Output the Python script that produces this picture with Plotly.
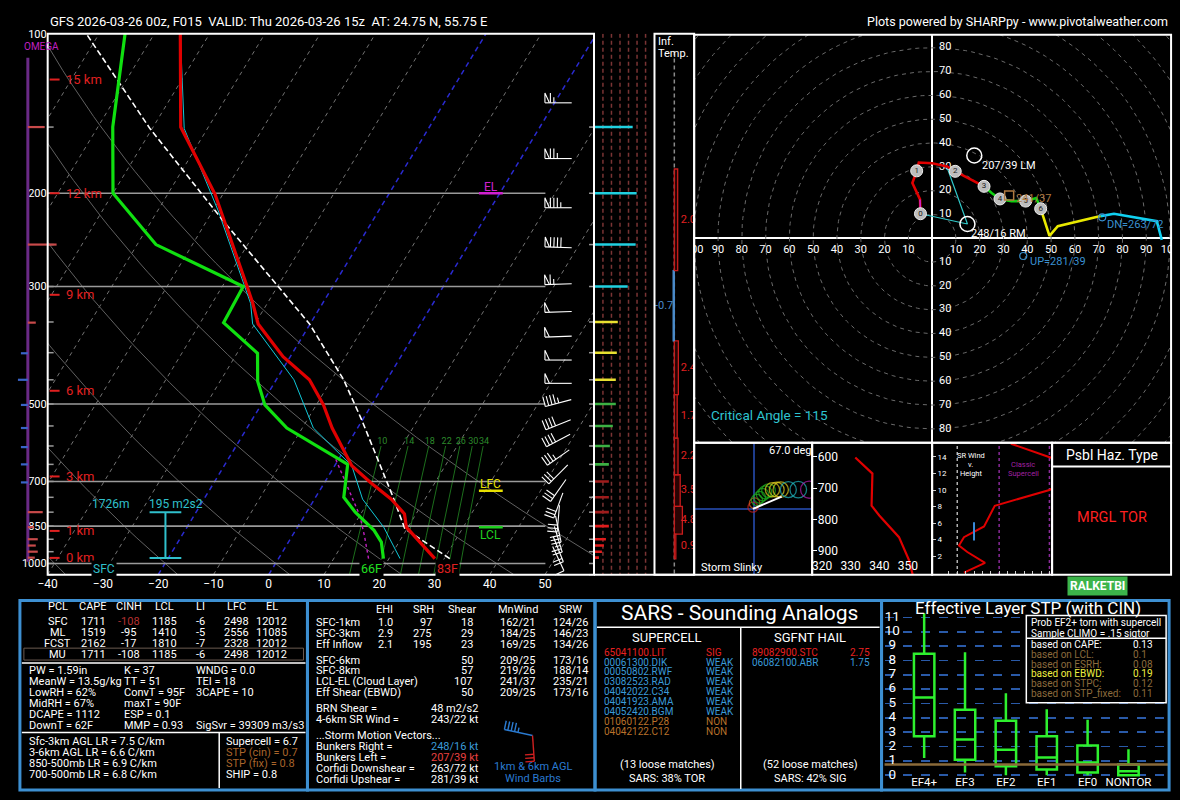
import numpy as np
import plotly.graph_objects as go

W, H = 1180, 800
FONT = "Roboto"

TITLE_LEFT = "GFS 2026-03-26 00z, F015  VALID: Thu 2026-03-26 15z  AT: 24.75 N, 55.75 E"
TITLE_RIGHT = "Plots powered by SHARPpy - www.pivotalweather.com"

# ---------------- Skew-T profiles (hPa, deg C) ----------------
p_env = [979, 854, 806, 756, 703, 654, 555, 502, 450, 407, 353, 323, 300, 201, 150, 100]
t_env = [28.3, 19.7, 17.9, 13.9, 8.3, 3.1, -4.6, -8.7, -14.0, -21.3, -29.4, -32.6, -35.5, -51.4, -65.0, -75.3]
p_dwpt = [979, 911, 866, 800, 750, 650, 555, 502, 453, 401, 351, 323, 300, 250, 200, 150, 100]
t_dwpt = [19.0, 16.8, 14.2, 8.8, 5.1, 2.2, -12.8, -19.3, -23.2, -26.3, -35.8, -36.0, -36.2, -56.6, -70.0, -77.3, -85.3]
p_wetb = [979, 854, 756, 654, 555, 450, 353, 323, 216, 151, 100]
t_wetb = [22.0, 15.6, 8.7, 3.1, -8.0, -16.8, -30.4, -33.0, -49.0, -64.2, -75.3]
p_parcel = [979, 860, 744, 535, 450, 353, 226, 151, 100]
t_parcel = [31.0, 19.6, 13.7, -0.2, -7.8, -20.1, -46.9, -70.4, -92.3]
p_dcape = [979, 885, 812, 636]
t_dcape = [16.3, 13.0, 10.0, -0.5]

p_levels = [100, 200, 300, 500, 700, 850, 1000]
p_minor = list(range(150, 1051, 50))
t_ticks = [-40, -30, -20, -10, 0, 10, 20, 30, 40, 50]
dry_adiabat_t1000 = [-100, -80, -60, -40, -20, 0, 20, 40, 60]
hgt_km = [0, 1, 3, 6, 9, 12, 15]
hgt_p = [976, 868, 685, 472, 311, 200, 122]
mixr_gkg = [10, 14, 18, 22, 26, 30, 34]

sfc_t_txt, sfc_td_txt = "83F", "66F"
el_p, lfc_p, lcl_p = 200, 729, 854
eff_bot_p, eff_top_p = 976, 800
eff_top_txt, eff_srh_txt = "1726m", "195 m2s2"

barb_p = [135, 172, 213, 253, 297, 335, 373, 413, 457, 498, 547, 586, 631, 679, 728, 777, 823, 861, 900, 940, 979]
barb_dir = [270, 270, 270, 272, 268, 268, 268, 270, 270, 255, 248, 242, 235, 225, 215, 200, 185, 168, 163, 158, 155]
barb_spd = [65, 75, 85, 90, 65, 50, 50, 50, 50, 45, 42, 38, 34, 31, 30, 30, 29, 29, 24, 18, 11]

omega_p = [150, 250, 351, 401, 450, 502, 555, 603, 650, 703, 800, 854, 900, 925, 950, 975]
omega_v = [17, 29, 8, -7, -10, -7, -7, -7, -7, -7, 15, 6, 10, 8, 10, 7]

inflow_p = [150, 200, 250, 300, 350, 400, 450, 500, 550, 600, 650, 700, 750, 800, 850, 900, 925, 950, 975]
inflow_v = [39, 43, 42, 34, 24, 23, 22, 22, 19, 16, 15, 15, 15, 15, 15, 12, 10, 8, 5]

inft_p = [980, 880, 780, 680, 580, 480, 380, 280, 180]
inft_v = [0.9, 4.8, 3.5, 2.2, 1.7, 2.4, -0.7, 2.0]

# ---------------- Hodograph (km AGL, kt) ----------------
hodo_h = [0, 0.5, 0.8, 1, 1.2, 1.5, 1.73, 2, 3, 3.3, 4, 4.5, 5, 5.7, 6, 6.8, 7.2, 8.5, 9, 10, 11.5, 12]
hodo_u = [-4.9, -5.1, -8.3, -6.5, -5.6, 0.0, 6.25, 9.7, 21.8, 25.0, 28.5, 33.3, 39.3, 43.75, 45.6, 49.3, 52.8, 66.7, 70.8, 76.4, 94.4, 96.5]
hodo_v = [10.3, 16.3, 23.2, 28.3, 31.8, 31.5, 30.1, 28.1, 21.8, 19.0, 16.5, 15.6, 15.6, 16.9, 12.4, 1.0, 5.1, 8.2, 9.3, 10.3, 7.2, -0.7]
eff_top_km = 1.726
rm_dir, rm_spd = 248, 16
lm_dir, lm_spd = 207, 39
mw_dir, mw_spd = 241, 37
dn_dir, dn_spd = 263, 72
up_dir, up_spd = 281, 39
critical_angle = 115

# ---------------- small panels ----------------
slinky_x = [-0.7, 1, 3.3, 6, 9, 11.7, 15, 19, 23.3, 27.3, 35, 45, 56]
slinky_y = [2, 6, 9.3, 12, 14.7, 17, 18.7, 19.7, 19.7, 19.7, 19.7, 19.7, 19.7]
slinky_km = [0.5, 1.5, 3.2, 3.8, 4.4, 5.0, 5.6, 6.3, 7.2, 8.2, 9.5, 11, 12.5]
slinky_vec_x = [-0.7, 28.3]
slinky_vec_y = [0.3, 12.7]
slinky_deg = "67.0 deg"

thetae_p = [603, 654, 756, 787, 856, 929, 982]
thetae_k = [331.6, 337.6, 337.3, 340.0, 346.9, 350.4, 351.9]

srw_h = [0, 1.2, 2.5, 3.3, 4.3, 5.6, 8.1, 10, 12, 13.9, 15.6]
srw_s = [19, 31.6, 21, 16, 19, 31, 37.4, 70, 85, 71, 47]
srw_46_s, srw_46_bot, srw_46_top = 25, 3.9, 6.1

# ---------------- STP box plot ----------------
stp_cats = ["EF4+", "EF3", "EF2", "EF1", "EF0", "NONTOR"]
stp_lo = [1.2, 0.18, 0.0, 0.0, 0.0, 0.0]
stp_q1 = [2.72, 1.08, 0.62, 0.39, 0.18, 0.0]
stp_med = [5.41, 2.49, 1.77, 1.24, 0.88, 0.28]
stp_q3 = [8.46, 4.56, 3.8, 2.72, 2.07, 0.74]
stp_hi = [11.3, 8.57, 5.71, 4.6, 3.87, 1.8]
stp_value = 0.75
prob_labels = ["based on CAPE:", "based on LCL:", "based on ESRH:", "based on EBWD:", "based on STPC:", "based on STP_fixed:"]
prob_values = ["0.13", "0.1", "0.08", "0.19", "0.12", "0.11"]

# ---------------- text tables ----------------
pcl_hdr = ["PCL", "CAPE", "CINH", "LCL", "LI", "LFC", "EL"]
pcl_name = ["SFC", "ML", "FCST", "MU"]
pcl_cape = [1711, 1519, 2162, 1711]
pcl_cinh = [-108, -95, -17, -108]
pcl_lcl = [1185, 1410, 1810, 1185]
pcl_li = [-6, -5, -7, -6]
pcl_lfc = [2498, 2556, 2328, 2498]
pcl_el = [12012, 11085, 12012, 12012]
idx_col1 = ["PW = 1.59in", "MeanW = 13.5g/kg", "LowRH = 62%", "MidRH = 67%", "DCAPE = 1112", "DownT = 62F"]
idx_col2 = ["K = 37", "TT = 51", "ConvT = 95F", "maxT = 90F", "ESP = 0.1", "MMP = 0.93"]
idx_col3 = ["WNDG = 0.0", "TEI = 18", "3CAPE = 10", "", "", "SigSvr = 39309 m3/s3"]
lapse_txt = ["Sfc-3km AGL LR = 7.5 C/km", "3-6km AGL LR = 6.6 C/km", "850-500mb LR = 6.9 C/km", "700-500mb LR = 6.8 C/km"]
svr_txt = ["Supercell = 6.7", "STP (cin) = 0.7", "STP (fix) = 0.8", "SHIP = 0.8"]

kin_rows = ["SFC-1km", "SFC-3km", "Eff Inflow", "SFC-6km", "SFC-8km", "LCL-EL (Cloud Layer)", "Eff Shear (EBWD)"]
kin_ehi = ["1.0", "2.9", "2.1", "", "", "", ""]
kin_srh = ["97", "275", "195", "", "", "", ""]
kin_shear = [18, 29, 23, 50, 57, 107, 50]
kin_mnwind = ["162/21", "184/25", "169/25", "209/25", "219/26", "241/37", "209/25"]
kin_srw = ["124/26", "146/23", "134/26", "173/16", "188/14", "235/21", "173/16"]

sars_sc = ["65041100.LIT", "00061300.DIK", "00050802.RWF", "03082523.RAD", "04042022.C34",
           "04041923.AMA", "04052420.BGM", "01060122.P28", "04042122.C12"]
sars_sc_cat = ["SIG", "WEAK", "WEAK", "WEAK", "WEAK", "WEAK", "WEAK", "NON", "NON"]
sars_hail = ["89082900.STC", "06082100.ABR"]
sars_hail_sz = ["2.75", "1.75"]

# ================= geometry helpers =================
SK_X0, SK_X1, SK_Y0, SK_Y1 = 38, 589, 28, 573
P_TOP, P_BOT = 100.0, 1050.0
LOGT, LOGB = np.log10(P_TOP), np.log10(P_BOT)
PX_PER_C = 5.57
X_LEFT = -40.0
X_RIGHT = X_LEFT + (SK_X1 - 38.3) / PX_PER_C
K_SKEW = 25.22


def fx(px):
    return px / W


def fy(py):
    return 1 - py / H


def skew(t, p):
    return np.asarray(t, float) + K_SKEW * np.log(P_BOT / np.asarray(p, float))


def ypx(p):
    return SK_Y0 + (np.log10(p) - LOGT) / (LOGB - LOGT) * (SK_Y1 - SK_Y0)


def xskew_px(px):
    return X_LEFT + (px - 38.3) / PX_PER_C


def td_from_w(w, p):
    e = w * p / (622.0 + w)
    a = np.log(e / 6.112)
    return 243.5 * a / (17.67 - a)


def uv(d, s):
    r = np.radians(d)
    return -s * np.sin(r), -s * np.cos(r)


fig = go.Figure()
SKEW, INF, ITMP, HODO, SLNK, THE, SRW, STP, PIX = [("x", "y")] + [("x%d" % i, "y%d" % i) for i in range(2, 10)]


def line(ax, x, y, color, width=1.0, dash=None, **kw):
    fig.add_trace(go.Scatter(x=list(x), y=list(y), mode="lines",
                             line=dict(color=color, width=width, dash=dash),
                             xaxis=ax[0], yaxis=ax[1], showlegend=False, hoverinfo="skip", **kw))


def text_tr(ax, x, y, txt, color="white", size=11, pos="middle center"):
    fig.add_trace(go.Scatter(x=list(x), y=list(y), mode="text", text=list(txt), textposition=pos,
                             textfont=dict(color=color, size=size, family=FONT),
                             xaxis=ax[0], yaxis=ax[1], showlegend=False, hoverinfo="skip"))


ann = []
shapes = []


def T(x, y, text, color="white", size=11, xa="left", ya="middle", bg=None):
    d = dict(x=fx(x), y=fy(y), xref="paper", yref="paper", text=text, showarrow=False,
             xanchor=xa, yanchor=ya, font=dict(color=color, size=size, family=FONT))
    if bg:
        d["bgcolor"] = bg
    ann.append(d)


def R(x0, y0, x1, y1, color="white", w=2, fill="rgba(0,0,0,0)"):
    shapes.append(dict(type="rect", xref="paper", yref="paper", x0=fx(x0), x1=fx(x1), y0=fy(y0), y1=fy(y1),
                       line=dict(color=color, width=w), fillcolor=fill, layer="above"))


def Lseg(x0, y0, x1, y1, color="white", w=2):
    shapes.append(dict(type="line", xref="paper", yref="paper", x0=fx(x0), x1=fx(x1), y0=fy(y0), y1=fy(y1),
                       line=dict(color=color, width=w), layer="above"))


# ================= Skew-T background =================
xs, ys = [], []
for t0 in range(-160, 70, 10):
    if t0 in (0, -20):
        continue
    xs += [t0, float(skew(t0, P_TOP)), None]
    ys += [P_BOT, P_TOP, None]
line(SKEW, xs, ys, "rgba(255,255,255,0.45)", 1, "4px,4px")
xs, ys = [], []
for t0 in (0, -20):
    xs += [t0, float(skew(t0, P_TOP)), None]
    ys += [P_BOT, P_TOP, None]
line(SKEW, xs, ys, "#2a2ad0", 1.5, "5px,4px")

pp = np.geomspace(P_TOP, P_BOT, 60)
xs, ys = [], []
for t1000 in dry_adiabat_t1000:
    th = t1000 + 273.15
    t = th * (pp / 1000.0) ** 0.2857 - 273.15
    xs += list(skew(t, pp)) + [None]
    ys += list(pp) + [None]
line(SKEW, xs, ys, "#606060", 1)

pw = np.linspace(600, P_BOT, 20)
xs, ys = [], []
for w in mixr_gkg:
    xs += list(skew(td_from_w(w, pw), pw)) + [None]
    ys += list(pw) + [None]
line(SKEW, xs, ys, "#1c6e1c", 1)
text_tr(SKEW, [float(skew(td_from_w(w, 588), 588)) for w in mixr_gkg], [588] * len(mixr_gkg),
        [str(w) for w in mixr_gkg], "#2c8a2c", 9)

xs, ys = [], []
for p in p_levels[1:]:
    xs += [X_LEFT, xskew_px(540), None]
    ys += [p, p, None]
line(SKEW, xs, ys, "#9a9a9a", 1.6)

# effective inflow bar
xb = xskew_px(157)
cap = 16 / PX_PER_C
line(SKEW, [xb, xb, None, xb - cap, xb + cap, None, xb - cap, xb + cap],
     [eff_bot_p, eff_top_p, None, eff_bot_p, eff_bot_p, None, eff_top_p, eff_top_p], "#30c0cc", 2)

# profiles
line(SKEW, skew(t_dcape, p_dcape), p_dcape, "#c020c0", 1.4, "3px,3px")
line(SKEW, skew(t_wetb, p_wetb), p_wetb, "#10c8d8", 1)
line(SKEW, skew(t_parcel, p_parcel), p_parcel, "white", 1.6, "6px,3px")
line(SKEW, skew(t_dwpt, p_dwpt), p_dwpt, "#10e010", 3.2)
line(SKEW, skew(t_env, p_env), p_env, "#e00000", 3.2)

# level markers
mx = [xskew_px(473), xskew_px(497)]
line(SKEW, mx, [el_p, el_p], "#d020d0", 2.5)
line(SKEW, mx, [lfc_p, lfc_p], "#e8e000", 2.5)
line(SKEW, mx, [lcl_p, lcl_p], "#20d020", 2.5)

# ================= inflow column =================
def inflow_color(p):
    if p <= 300:
        return "#20d0e0"
    if p <= 450:
        return "#e8e030"
    if p <= 650:
        return "#3cb043"
    if p <= 800:
        return "#a01c1c"
    return "#e01c1c"


gx_ = [9, 17.6, 26.2, 34.8, 43.4, 52]
vx, vy = [], []
for g in gx_:
    vx += [g, g, None]
    vy += [P_TOP, P_BOT, None]
line(INF, vx, vy, "#7a3434", 1.5, "4px,3px")

groups = {}
for p, v in zip(inflow_p, inflow_v):
    c = inflow_color(p)
    gx, gy = groups.setdefault(c, ([], []))
    gx += [0, v, None]
    gy += [p, p, None]
for c, (gx, gy) in groups.items():
    line(INF, gx, gy, c, 2.6)

# ================= inferred temp advection =================
line(ITMP, [0, 0], [P_TOP * 1.08, P_BOT], "#8a8a8a", 1.5, "4px,3px")
for i, v in enumerate(inft_v):
    pb, pt = inft_p[i], inft_p[i + 1]
    c = "#c81c1c" if v > 0 else "#4a8ac8"
    fill = "rgba(120,10,10,0.35)" if v > 0 else "rgba(74,138,200,0.8)"
    fig.add_trace(go.Scatter(x=[0, v, v, 0, 0], y=[pb, pb, pt, pt, pb], mode="lines", fill="toself",
                             fillcolor=fill, line=dict(color=c, width=1.3),
                             xaxis="x3", yaxis="y3", showlegend=False, hoverinfo="skip"))
    pm = np.sqrt(pb * pt)
    if v > 0:
        text_tr(ITMP, [3.8], [pm], ["%.1f" % v], "#e02020", 11, "middle right")
    else:
        text_tr(ITMP, [-11.5], [pm], ["%.1f" % v], "#4a8ac8", 11, "middle right")

# ================= barbs & omega (pixel overlay) =================
def barb_xy(cx, cy, direc, spd, L=27.0, flen=10.0, fsp=3.5, centered=True):
    r = np.radians(direc)
    s = np.array([np.sin(r), -np.cos(r)])
    b = np.array([-s[1], s[0]])
    c = np.array([cx, cy], float)
    start = c - s * L / 2 if centered else c
    end = start + s * L
    X = [start[0], end[0], None]
    Y = [start[1], end[1], None]
    v = int(5 * round(spd / 5.0))
    n50, v = divmod(v, 50)
    n10, v = divmod(v, 10)
    n5 = v // 5
    pos = 0.0
    for _ in range(n50):
        a = end - s * pos
        t = a + b * flen
        e = end - s * (pos + 4.5)
        X += [a[0], t[0], e[0], None]
        Y += [a[1], t[1], e[1], None]
        pos += 5.5
    for _ in range(n10):
        a = end - s * pos
        t = a + b * flen
        X += [a[0], t[0], None]
        Y += [a[1], t[1], None]
        pos += fsp
    if n5:
        if pos == 0:
            pos = fsp
        a = end - s * pos
        t = a + b * flen * 0.55
        X += [a[0], t[0], None]
        Y += [a[1], t[1], None]
    return X, Y


bx, by = [], []
for p, d, s in zip(barb_p, barb_dir, barb_spd):
    X, Y = barb_xy(553, ypx(p), d, s)
    bx += X
    by += Y
line(PIX, bx, by, "white", 1.1)

# minor pressure ticks on both edges of the skew-T
tx, ty = [], []
for p in p_minor:
    y = ypx(p)
    tx += [SK_X0, SK_X0 + 6, None, SK_X1 - 5, SK_X1 + 1, None]
    ty += [y, y, None, y, y, None]
line(PIX, tx, ty, "#9a9a9a", 1.5)

line(PIX, [18, 18], [ypx(111), ypx(993)], "#6a2a86", 3)
ox_p, oy_p, ox_n, oy_n = [], [], [], []
for p, v in zip(omega_p, omega_v):
    if v > 0:
        ox_p += [18, 18 + v, None]
        oy_p += [ypx(p), ypx(p), None]
    else:
        ox_n += [18 + v, 18, None]
        oy_n += [ypx(p), ypx(p), None]
line(PIX, ox_p, oy_p, "#c84a4a", 2.2)
line(PIX, ox_n, oy_n, "#3a64c8", 2.2)

kx, ky = [], []
for p in hgt_p:
    kx += [40, 50, None]
    ky += [ypx(p), ypx(p), None]
line(PIX, kx, ky, "#e02020", 2)

# small wind-barb icon in kinematics panel
X1, Y1 = barb_xy(527, 735, 282, 45, L=29, flen=9, centered=False)
line(PIX, X1, Y1, "#2a7ad0", 1.4)
X2, Y2 = barb_xy(527, 735, 176, 30, L=26, flen=9, centered=False)
line(PIX, X2, Y2, "#d02020", 1.4)

# ================= hodograph =================
th = np.linspace(0, 2 * np.pi, 181)
rx, ry = [], []
for r in range(10, 150, 10):
    rx += list(r * np.cos(th)) + [None]
    ry += list(r * np.sin(th)) + [None]
line(HODO, rx, ry, "#6a6a6a", 1, "4px,4px")

lbl = list(range(10, 110, 10))
text_tr(HODO, [-v for v in lbl] + lbl, [-5] * (2 * len(lbl)), [str(v) for v in lbl] * 2, "white", 11)
lbl = list(range(10, 90, 10))
text_tr(HODO, [5.5] * (2 * len(lbl)), lbl + [-v for v in lbl], [str(v) for v in lbl] * 2, "white", 11)

rmu, rmv = uv(rm_dir, rm_spd)
lmu, lmv = uv(lm_dir, lm_spd)
mwu, mwv = uv(mw_dir, mw_spd)
dnu, dnv = uv(dn_dir, dn_spd)
upu, upv = uv(up_dir, up_spd)
etu, etv = np.interp(eff_top_km, hodo_h, hodo_u), np.interp(eff_top_km, hodo_h, hodo_v)
line(HODO, [hodo_u[0], rmu, etu], [hodo_v[0], rmv, etv], "#30c8c8", 1.2)

for h0, h1, c in [(0, 3, "#e00000"), (3, 6, "#10d010"), (6, 9, "#e8e800"), (9, 12, "#10d0f0")]:
    idx = [i for i, h in enumerate(hodo_h) if h0 <= h <= h1]
    line(HODO, [hodo_u[i] for i in idx], [hodo_v[i] for i in idx], c, 2.6)
idx = [i for i, h in enumerate(hodo_h) if h <= 0.5]
line(HODO, [hodo_u[i] for i in idx], [hodo_v[i] for i in idx], "#d020d0", 1.6)

mk = [i for i, h in enumerate(hodo_h) if h in (0, 1, 2, 3, 4, 5, 6)]
fig.add_trace(go.Scatter(x=[hodo_u[i] for i in mk], y=[hodo_v[i] for i in mk], mode="markers+text",
                         text=[str(int(hodo_h[i])) for i in mk], textposition="middle center",
                         textfont=dict(size=8, color="#202020", family=FONT),
                         marker=dict(size=12, color="#bdbdbd", line=dict(color="#eeeeee", width=1)),
                         xaxis="x4", yaxis="y4", showlegend=False, hoverinfo="skip"))
fig.add_trace(go.Scatter(x=[rmu, lmu], y=[rmv, lmv], mode="markers",
                         marker=dict(symbol="circle-open", size=15, color="white", line=dict(width=1.5)),
                         xaxis="x4", yaxis="y4", showlegend=False, hoverinfo="skip"))
fig.add_trace(go.Scatter(x=[mwu], y=[mwv], mode="markers",
                         marker=dict(symbol="square-open", size=9, color="#b07a40", line=dict(width=1.5)),
                         xaxis="x4", yaxis="y4", showlegend=False, hoverinfo="skip"))
fig.add_trace(go.Scatter(x=[dnu, upu], y=[dnv, upv], mode="markers",
                         marker=dict(symbol="circle-open", size=7, color="#3a90d0", line=dict(width=1.2)),
                         xaxis="x4", yaxis="y4", showlegend=False, hoverinfo="skip"))


def hann(x, y, text, color, xs=0, ys=0, size=11):
    ann.append(dict(x=x, y=y, xref="x4", yref="y4", text=text, showarrow=False, xanchor="left",
                    yanchor="middle", xshift=xs, yshift=ys, font=dict(color=color, size=size, family=FONT)))


hann(lmu, lmv, "%d/%d LM" % (lm_dir, lm_spd), "white", 6, -10)
hann(rmu, rmv, "%d/%d RM" % (rm_dir, rm_spd), "white", 2, -10)
hann(mwu, mwv, "%d/%d" % (mw_dir, mw_spd), "#b07a40", 5, -3)
hann(dnu, dnv, "DN=%d/%d" % (dn_dir, dn_spd), "#3a90d0", 3, -7)
hann(upu, upv, "UP=%d/%d" % (up_dir, up_spd), "#3a90d0", 5, -6)
T(705, 412, "Critical Angle = %d" % critical_angle, "#2ec4d0", 13.5)

# ================= storm slinky =================
def slinky_color(h):
    if h < 3:
        return "#d02020" if h < 1 else "#e06020"
    if h < 6:
        return "#20b020"
    if h < 9:
        return "#e0d020"
    if h < 12:
        return "#20b8c0"
    return "#b020b0"


fig.add_trace(go.Scatter(x=slinky_x, y=slinky_y, mode="markers",
                         marker=dict(symbol="circle-open", size=[10 + 0.6 * i for i in range(len(slinky_x))],
                                     color=[slinky_color(h) for h in slinky_km], line=dict(width=1.3)),
                         xaxis="x5", yaxis="y5", showlegend=False, hoverinfo="skip"))
line(SLNK, slinky_vec_x, slinky_vec_y, "white", 2)
T(787, 448, slinky_deg, "white", 11, "center")
T(695, 566, "Storm Slinky", "white", 11)

# ================= theta-e =================
line(THE, thetae_k, thetae_p, "#e00000", 2.2)
text_tr(THE, [320, 330, 340, 350], [950] * 4, ["320", "330", "340", "350"], "white", 12)

# ================= SR wind =================
line(SRW, [15, 15], [-1, 17], "#b0b0b0", 1.5, "3px,3px")
line(SRW, [40, 40, None, 70, 70], [-1, 17, None, -1, 17], "#8a2a9a", 1.5, "3px,3px")
line(SRW, srw_s, srw_h, "#e00000", 2)
line(SRW, [srw_46_s, srw_46_s], [srw_46_bot, srw_46_top], "#3a8ad8", 2)
T(969, 453, "SR Wind", "white", 7.5, "center")
T(969, 462, "v.", "white", 7.5, "center")
T(969, 471, "Height", "white", 7.5, "center")
T(1022, 462, "Classic", "#a020a0", 7.5, "center")
T(1022, 471, "Supercell", "#a020a0", 7.5, "center")

# ================= STP box plot =================
for i in range(len(stp_cats)):
    fig.add_trace(go.Box(x=[i], q1=[stp_q1[i]], median=[stp_med[i]], q3=[stp_q3[i]],
                         lowerfence=[stp_lo[i]], upperfence=[stp_hi[i]], width=0.5, whiskerwidth=0,
                         line=dict(color="#2ef02e", width=2.5), fillcolor="rgba(0,0,0,0)", boxpoints=False,
                         xaxis="x8", yaxis="y8", showlegend=False, hoverinfo="skip"))
line(STP, [-1, 6], [stp_value, stp_value], "#8a6a3a", 2.5)
text_tr(STP, [-0.78] * 12, list(range(12)), [str(v) for v in range(12)], "white", 13.5)
text_tr(STP, list(range(len(stp_cats))), [-0.55] * len(stp_cats), stp_cats, "white", 11.5)

# ================= text & frames =================
T(38, 16, TITLE_LEFT, "white", 13)
T(1170, 16, TITLE_RIGHT, "white", 12.5, "right")
T(32, 41, "OMEGA", "#c020c0", 10, "center")
for km, p in zip(hgt_km, hgt_p):
    T(54, ypx(p), "%d km" % km, "#e02020", 13)
T(102, 502, eff_top_txt, "#30c0cc", 12, "center")
T(167, 502, eff_srh_txt, "#30c0cc", 12, "center")
T(95, 567, "SFC", "#30c0cc", 12, "center", bg="black")
T(365, 567, sfc_td_txt, "#20e020", 12.5, "center", bg="black")
T(441, 567, sfc_t_txt, "#e02020", 12.5, "center", bg="black")
T(485, 182, "EL", "#d020d0", 12, "center")
T(485, 482, "LFC", "#e8e000", 12, "center")
T(485, 533, "LCL", "#20d020", 12, "center")
T(652, 36, "Inf.", "white", 11)
T(652, 48, "Temp.", "white", 11)

R(SK_X0, SK_Y0, SK_X1, SK_Y1)
Lseg(SK_X1, SK_Y1, 690, SK_Y1)
R(650, 28, 690, 573)
R(690, 29, 1171, 440)
R(690, 440, 809, 573)
R(809, 440, 930, 573)
R(930, 440, 1051, 573)
R(1051, 440, 1171, 573)
Lseg(1051, 464, 1171, 464)
T(1111, 452, "Psbl Haz. Type", "white", 14, "center")
T(1111, 515, "MRGL TOR", "#ff2020", 14.5, "center")
ann.append(dict(x=fx(1097), y=fy(584), xref="paper", yref="paper", text="<b>RALKETBI</b>", showarrow=False,
                xanchor="center", yanchor="middle", bgcolor="#3cb44a", borderpad=2,
                font=dict(color="white", size=12, family=FONT)))

# bottom panels
BLUE = "#3d8fd1"
for x0, x1 in [(10, 300), (300, 590), (590, 879), (879, 1169)]:
    R(x0, 599, x1, 790, BLUE, 3)

TS = 11
# panel 1
colx = [48, 84, 120, 156, 192, 228, 264]
for j, h in enumerate(pcl_hdr):
    T(colx[j], 605, h, "white", TS, "center")
for i in range(len(pcl_name)):
    vals = [pcl_name[i], pcl_cape[i], pcl_cinh[i], pcl_lcl[i], pcl_li[i], pcl_lfc[i], pcl_el[i]]
    for j, v in enumerate(vals):
        c = "#b43030" if (i == 0 and j == 2) else "white"
        T(colx[j], 620 + 11 * i, str(v), c, TS, "center")
R(14, 647, 296, 659, "#6b5a50", 1)
Lseg(12, 662, 298, 662, "white", 1.5)
for i in range(6):
    T(17, 670 + 11 * i, idx_col1[i], "white", TS)
    T(113, 670 + 11 * i, idx_col2[i], "white", TS)
    if idx_col3[i]:
        T(186, 670 + 11 * i, idx_col3[i], "white", TS)
Lseg(12, 732, 298, 732, "white", 1.5)
Lseg(211, 732, 211, 788, "white", 1.5)
svr_col = ["white", "#a8642a", "#a8642a", "white"]
for i in range(4):
    T(17, 741 + 11 * i, lapse_txt[i], "white", TS)
    T(216, 741 + 11 * i, svr_txt[i], svr_col[i], TS)

# panel 2
for x, h in [(378, "EHI"), (417, "SRH"), (456, "Shear"), (512, "MnWind"), (565, "SRW")]:
    T(x, 608, h, "white", TS, "center")
rows_y = [621, 632, 643, 659, 670, 681, 692]
for i, name in enumerate(kin_rows):
    y = rows_y[i]
    T(307, y, name, "white", TS)
    if kin_ehi[i]:
        T(379, y, kin_ehi[i], "white", TS, "center")
        T(428, y, kin_srh[i], "white", TS, "right")
    T(469, y, str(kin_shear[i]), "white", TS, "right")
    T(512, y, kin_mnwind[i], "white", TS, "center")
    T(565, y, kin_srw[i], "white", TS, "center")
T(307, 708, "BRN Shear =", "white", TS)
T(423, 708, "48 m2/s2", "white", TS)
T(307, 719, "4-6km SR Wind =", "white", TS)
T(423, 719, "243/22 kt", "white", TS)
T(307, 735, "...Storm Motion Vectors...", "white", TS)
smv = [("Bunkers Right =", "%d/%d kt" % (rm_dir, rm_spd), "#3a9ad9"),
       ("Bunkers Left =", "%d/%d kt" % (lm_dir, lm_spd), "#e84040"),
       ("Corfidi Downshear =", "%d/%d kt" % (dn_dir, dn_spd), "white"),
       ("Corfidi Upshear =", "%d/%d kt" % (up_dir, up_spd), "white")]
for i, (a, b, c) in enumerate(smv):
    T(307, 746 + 11 * i, a, "white", TS)
    T(423, 746 + 11 * i, b, c, TS)
T(527, 766, "1km & 6km AGL", "#2a7ad0", TS, "center")
T(527, 778, "Wind Barbs", "#2a7ad0", TS, "center")

# panel 3
T(736, 612, "SARS - Sounding Analogs", "white", 21, "center")
Lseg(592, 626, 877, 626, "white", 1.5)
Lseg(737, 626, 737, 789, "white", 1.5)
T(663, 636, "SUPERCELL", "white", 13, "center")
T(807, 636, "SGFNT HAIL", "white", 13, "center")
cat_col = {"SIG": "#e82020", "WEAK": "#3a9ad9", "NON": "#b8702a"}
for i, (n, c) in enumerate(zip(sars_sc, sars_sc_cat)):
    T(597, 651 + 10 * i, n, cat_col[c], 10)
    T(700, 651 + 10 * i, c, cat_col[c], 10)
hail_col = ["#e82020", "#3a9ad9"]
for i, (n, s) in enumerate(zip(sars_hail, sars_hail_sz)):
    T(746, 651 + 10 * i, n, hail_col[i], 10)
    T(869, 651 + 10 * i, s, hail_col[i], 10, "right")
T(663, 764, "(13 loose matches)", "white", 11, "center")
T(663, 778, "SARS: 38% TOR", "white", 11, "center")
T(807, 764, "(52 loose matches)", "white", 11, "center")
T(807, 778, "SARS: 42% SIG", "white", 11, "center")

# panel 4
T(1027, 607, "Effective Layer STP (with CIN)", "white", 17, "center")
R(1025, 614, 1166, 702, "white", 1.5, "black")
Lseg(1025, 637, 1166, 637, "white", 1.5)
T(1028, 621, "Prob EF2+ torn with supercell", "white", 10)
T(1028, 632, "Sample CLIMO = .15 sigtor", "white", 10)
prob_col = ["white", "#8b6b3d", "#8b6b3d", "#f0f040", "#8b6b3d", "#8b6b3d"]
for i in range(len(prob_labels)):
    T(1028, 643 + 10 * i, prob_labels[i], prob_col[i], 10)
    T(1131, 643 + 10 * i, prob_values[i], prob_col[i], 10)

# ================= layout =================
def ax(domain, rng, **kw):
    d = dict(domain=domain, range=rng, showgrid=False, zeroline=False, showticklabels=False,
             ticks="", showline=False, fixedrange=True)
    d.update(kw)
    return d


ydom_sk = [fy(SK_Y1), fy(SK_Y0)]
ydom_small = [fy(573), fy(440)]
layout = dict(
    autosize=True, margin=dict(l=0, r=0, t=0, b=0),
    paper_bgcolor="black", plot_bgcolor="rgba(0,0,0,0)",
    font=dict(family=FONT, color="white", size=12),
    showlegend=False, hovermode=False,
    xaxis=ax([fx(SK_X0), fx(SK_X1)], [X_LEFT, X_RIGHT], anchor="y", showticklabels=True,
             tickmode="array", tickvals=t_ticks, tickfont=dict(size=12, color="white")),
    yaxis=ax(ydom_sk, [LOGB, LOGT], anchor="x", type="log", showticklabels=True, tickmode="array",
             tickvals=p_levels, ticktext=[str(v) for v in p_levels], tickfont=dict(size=11, color="white")),
    xaxis2=ax([fx(589), fx(650)], [0, 61], anchor="y2"),
    yaxis2=ax(ydom_sk, [LOGB, LOGT], anchor="x2", type="log"),
    xaxis3=ax([fx(650), fx(690)], [-11.8, 11.8], anchor="y3"),
    yaxis3=ax(ydom_sk, [LOGB, LOGT], anchor="x3", type="log"),
    xaxis4=ax([fx(690), fx(1171)], [-100, 100.4], anchor="y4", zeroline=True, zerolinecolor="white",
              zerolinewidth=2),
    yaxis4=ax([fy(440), fy(29)], [-85.8, 85.4], anchor="x4", zeroline=True, zerolinecolor="white",
              zerolinewidth=2),
    xaxis5=ax([fx(690), fx(809)], [-60, 59], anchor="y5", zeroline=True, zerolinecolor="#1e3c8c",
              zerolinewidth=2),
    yaxis5=ax(ydom_small, [-66, 67], anchor="x5", zeroline=True, zerolinecolor="#1e3c8c", zerolinewidth=2),
    xaxis6=ax([fx(809), fx(930)], [316.5, 358.5], anchor="y6"),
    yaxis6=ax(ydom_small, [975.4, 555.8], anchor="x6", showticklabels=True, tickmode="array",
              tickvals=[600, 700, 800, 900], ticks="inside", ticklen=5, tickcolor="white",
              ticklabelposition="inside", tickfont=dict(size=12, color="white")),
    xaxis7=ax([fx(930), fx(1051)], [0, 71.6], anchor="y7", tickmode="array",
              tickvals=list(range(5, 71, 5)), ticks="inside", ticklen=4, tickcolor="#cccccc"),
    yaxis7=ax(ydom_small, [-0.24, 15.72], anchor="x7", showticklabels=True, tickmode="array",
              tickvals=list(range(2, 15, 2)), ticks="inside", ticklen=4, tickcolor="#cccccc",
              ticklabelposition="inside", tickfont=dict(size=8, color="white")),
    xaxis8=ax([fx(882), fx(1168)], [-0.97, 5.97], anchor="y8", type="linear"),
    yaxis8=ax([fy(790), fy(598)], [-1.04, 12.25], anchor="x8", showgrid=True, tickmode="array",
              tickvals=list(range(12)), gridcolor="#2a5aa8", griddash="dash", gridwidth=1.5),
    xaxis9=ax([0, 1], [0, W], anchor="y9"),
    yaxis9=ax([0, 1], [H, 0], anchor="x9"),
    annotations=ann,
    shapes=shapes,
)
fig.update_layout(**layout)
fig.write_html("out.html", config={"displayModeBar": False, "staticPlot": True},
               default_width="%dpx; position:absolute; left:0px; top:0px" % W,
               default_height="%dpx" % H)
